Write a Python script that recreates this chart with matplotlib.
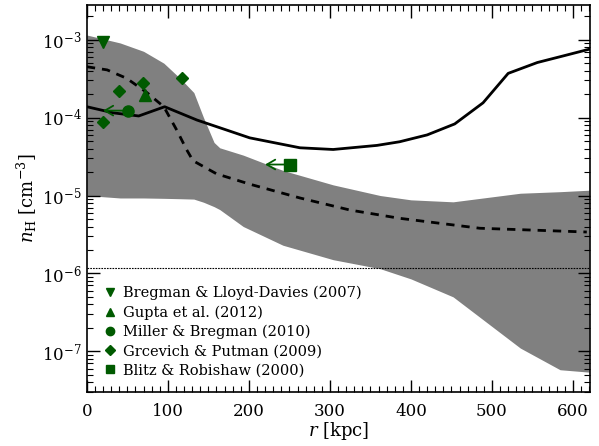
import numpy as np
import matplotlib.pyplot as plt
from matplotlib.lines import Line2D
from matplotlib.ticker import MultipleLocator, LogLocator, NullFormatter

plt.rcParams['font.family'] = ['DejaVu Serif']
plt.rcParams['mathtext.fontset'] = 'dejavuserif'

# shaded band (model range)
band_r = [0, 41, 70, 95, 115, 132, 144, 157, 164, 193, 242, 304, 362, 400, 452, 535, 584, 620]
band_hi = [1.15e-3, 9.1e-4, 7.1e-4, 5.0e-4, 3.2e-4, 2.1e-4, 1.0e-4, 4.8e-5, 4.1e-5,
           3.3e-5, 2.1e-5, 1.37e-5, 1.0e-5, 8.8e-6, 8.3e-6, 1.07e-5, 1.12e-5, 1.17e-5]
band_lo = [1.0e-5, 9.3e-6, 9.3e-6, 9.2e-6, 9.1e-6, 9.0e-6, 8.2e-6, 7.2e-6, 6.6e-6,
           4.0e-6, 2.3e-6, 1.5e-6, 1.15e-6, 8.5e-7, 5.0e-7, 1.1e-7, 5.8e-8, 5.4e-8]

# solid curve
solid_r = [0, 33, 64, 96, 136, 173, 201, 263, 304, 358, 386, 420, 454, 489, 520, 556, 588, 621]
solid_n = [1.38e-4, 1.15e-4, 1.05e-4, 1.38e-4, 9.3e-5, 6.9e-5, 5.5e-5, 4.1e-5, 3.9e-5,
           4.4e-5, 4.9e-5, 6.0e-5, 8.3e-5, 1.55e-4, 3.7e-4, 5.1e-4, 6.2e-4, 7.6e-4]

# dashed curve
dash_r = [0, 25, 49, 74, 95, 111, 123, 131, 160, 201, 263, 325, 386, 485, 617]
dash_n = [4.5e-4, 4.1e-4, 3.2e-4, 2.1e-4, 1.38e-4, 6.9e-5, 3.9e-5, 2.8e-5, 1.9e-5,
          1.4e-5, 9.3e-6, 6.5e-6, 5.1e-6, 3.8e-6, 3.4e-6]

dotted_n = 1.18e-6

# observations
bld_r, bld_n = [20], [9.4e-4]
gupta_r, gupta_n = [72], [1.96e-4]
mb_r, mb_n = [51], [1.23e-4]
gp_r = [40, 69, 118, 20]
gp_n = [2.2e-4, 2.8e-4, 3.2e-4, 8.9e-5]
br_r, br_n = [251], [2.5e-5]
# upper limits: arrow tips
mb_tip = [20]
br_tip = [220]

green = '#005a00'

fig, ax = plt.subplots(figsize=(5.99, 4.46), dpi=100)
fig.subplots_adjust(left=0.145, right=0.985, top=0.989, bottom=0.121)

ax.fill_between(band_r, band_lo, band_hi, color='#808080', lw=0)
ax.plot(solid_r, solid_n, color='black', lw=2)
ax.plot(dash_r, dash_n, color='black', lw=2, ls=(0, (3, 2.5)))
ax.axhline(dotted_n, color='black', lw=0.8, ls=(0, (1.5, 1)))

ax.plot(bld_r, bld_n, 'v', color=green, ms=8, zorder=5)
ax.plot(gupta_r, gupta_n, '^', color=green, ms=8, zorder=5)
ax.plot(mb_r, mb_n, 'o', color=green, ms=8, zorder=5)
ax.plot(gp_r, gp_n, 'D', color=green, ms=6.5, zorder=5)
ax.plot(br_r, br_n, 's', color=green, ms=8, zorder=5)
for x0, tip, y0 in zip(mb_r + br_r, mb_tip + br_tip, mb_n + br_n):
    ax.annotate('', xy=(tip, y0), xytext=(x0, y0),
                arrowprops=dict(arrowstyle='->,head_length=0.6,head_width=0.35',
                                color=green, lw=1.3, shrinkA=0, shrinkB=0), zorder=4)

ax.set_yscale('log')
ax.set_xlim(0, 621)
ax.set_ylim(3.0e-8, 2.8e-3)

ax.xaxis.set_major_locator(MultipleLocator(100))
ax.xaxis.set_minor_locator(MultipleLocator(10))
ax.yaxis.set_major_locator(LogLocator(base=10, numticks=20))
ax.yaxis.set_minor_locator(LogLocator(base=10, subs=np.arange(2, 10), numticks=20))
ax.yaxis.set_minor_formatter(NullFormatter())
ax.tick_params(which='both', direction='in', top=True, right=True, labelsize=12)
ax.tick_params(which='major', length=9, width=1)
ax.tick_params(which='minor', length=4, width=0.8)
ax.tick_params(axis='x', pad=8)
for s in ax.spines.values():
    s.set_linewidth(1.2)

ax.set_xlabel(r'$r$ [kpc]', fontsize=13, labelpad=0)
ax.set_ylabel(r'$n_{\rm H}$ [cm$^{-3}$]', fontsize=13, labelpad=2)

handles = [
    Line2D([], [], ls='', marker='v', color=green, ms=6),
    Line2D([], [], ls='', marker='^', color=green, ms=6),
    Line2D([], [], ls='', marker='o', color=green, ms=6),
    Line2D([], [], ls='', marker='D', color=green, ms=5),
    Line2D([], [], ls='', marker='s', color=green, ms=6),
]
labels = ['Bregman & Lloyd-Davies (2007)', 'Gupta et al. (2012)',
          'Miller & Bregman (2010)', 'Grcevich & Putman (2009)',
          'Blitz & Robishaw (2000)']
ax.legend(handles, labels, loc='lower left', frameon=False, fontsize=10.5,
          handlelength=0.8, handletextpad=0.5, labelspacing=0.35,
          borderaxespad=0.6, bbox_to_anchor=(0.005, 0.0))

fig.savefig('out.png', dpi=100)
